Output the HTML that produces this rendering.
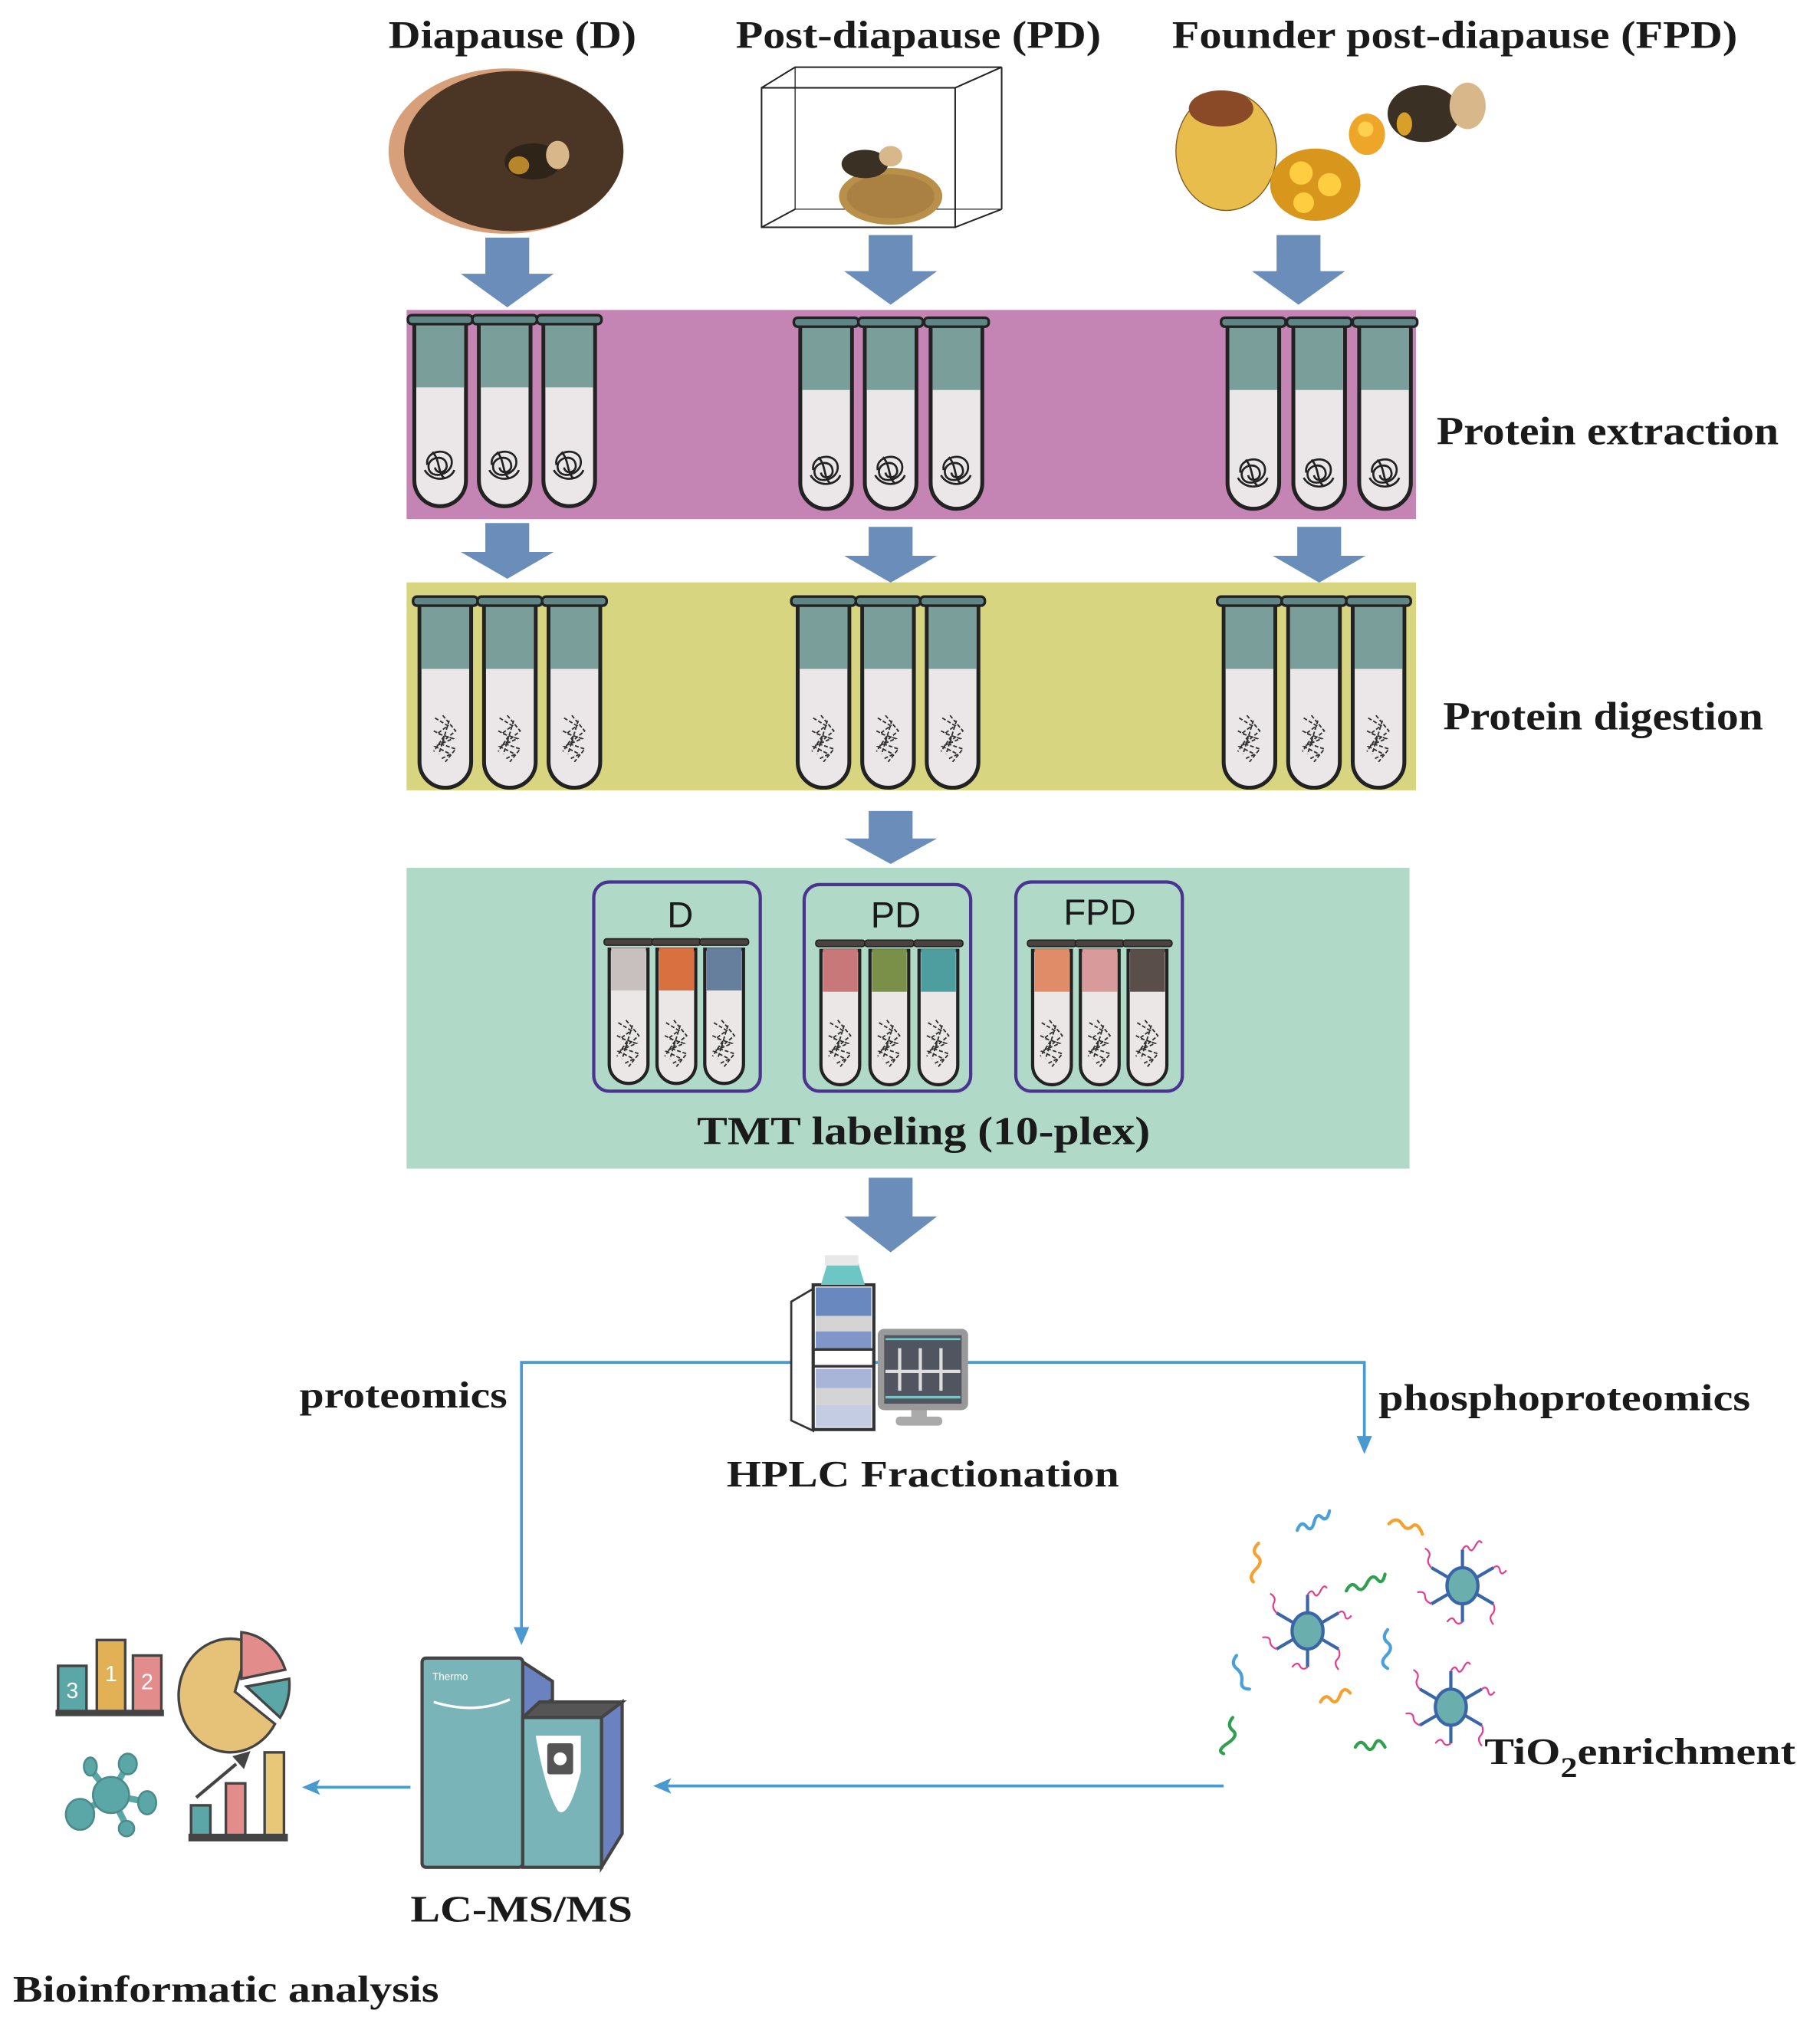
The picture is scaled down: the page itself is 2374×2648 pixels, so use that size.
<!DOCTYPE html>
<html><head><meta charset="utf-8"><style>
html,body{margin:0;padding:0;background:#fff;}
svg{display:block;}
text{font-family:"Liberation Serif",serif;font-weight:bold;fill:#1a1a1a;}
.s{font-family:"Liberation Sans",sans-serif;font-weight:normal;}
</style></head><body>
<svg width="2374" height="2648" viewBox="0 0 1410 1572" preserveAspectRatio="none" xmlns="http://www.w3.org/2000/svg">
<defs>
<g id="tb">
 <path d="M-20 6 V128 A20 20 0 0 0 20 128 V6 Z" fill="#ebe7e8" stroke="#222" stroke-width="3"/>
 <rect x="-18.5" y="7" width="37" height="49" fill="#7a9f9b"/>
 <rect x="-25" y="0" width="50" height="7" rx="3" fill="#5f8684" stroke="#222" stroke-width="2"/>
</g>
<g id="knot"><path d="M-10 0 C-12 -12 8 -14 9 -3 C10 8 -8 12 -9 2 C-10 -6 4 -9 5 0 C6 6 -3 8 -4 2 M-12 4 C-6 14 8 12 11 4 M-6 -10 C0 -4 -2 6 3 10" fill="none" stroke="#222" stroke-width="1.6"/></g>
<g id="mess"><path d="M-8 -14 L2 -8 L-6 -2 L6 2 L-8 8 L4 14 L-4 18 M-2 -16 L8 -4 L-4 6 L8 10 L0 20 M-9 -4 L-1 0 L-9 12 M3 -12 L-5 14" fill="none" stroke="#333" stroke-width="1.1" stroke-dasharray="3 1.5"/></g>
<g id="ts">
 <path d="M-15 5 V94 A15 15 0 0 0 15 94 V5 Z" fill="#ece7e7" stroke="#222" stroke-width="2.5"/>
</g>
<g id="arr"><polygon points="-17,0 17,0 17,28 36,28 0,54 -36,28 -17,28" fill="#6a8dba"/></g>
</defs>

<!-- titles -->
<text x="301" y="37" font-size="30" textLength="192" lengthAdjust="spacingAndGlyphs">Diapause (D)</text>
<text x="570" y="37" font-size="30" textLength="283" lengthAdjust="spacingAndGlyphs">Post-diapause (PD)</text>
<text x="908" y="37" font-size="30" textLength="438" lengthAdjust="spacingAndGlyphs">Founder post-diapause (FPD)</text>

<!-- diapause image -->
<ellipse cx="392" cy="117" rx="91" ry="64" fill="#d7a07a"/>
<ellipse cx="398" cy="117" rx="85" ry="62" fill="#4b3626"/>
<ellipse cx="413" cy="125" rx="22" ry="14" fill="#2e2418"/>
<ellipse cx="432" cy="120" rx="9" ry="11" fill="#d8b88a"/>
<ellipse cx="402" cy="128" rx="8" ry="7" fill="#b8862a"/>
<!-- PD cube -->
<g fill="none" stroke="#222" stroke-width="1.2">
<rect x="590" y="68" width="150" height="108"/>
<polyline points="590,68 616,52 776,52 740,68"/>
<line x1="776" y1="52" x2="776" y2="162"/><line x1="776" y1="162" x2="740" y2="176"/>
<line x1="616" y1="52" x2="616" y2="162" stroke-width="0.8"/><line x1="616" y1="162" x2="776" y2="162" stroke-width="0.8"/><line x1="590" y1="176" x2="616" y2="162"/>
</g>
<ellipse cx="690" cy="152" rx="40" ry="22" fill="#b8904a"/>
<ellipse cx="690" cy="152" rx="34" ry="17" fill="#a07840" opacity="0.6"/>
<ellipse cx="670" cy="127" rx="18" ry="11" fill="#3a3024"/>
<ellipse cx="690" cy="121" rx="9" ry="8" fill="#d8b88a"/>
<!-- FPD -->
<ellipse cx="950" cy="117" rx="39" ry="46" fill="#e8bd4c" stroke="#7a5a20" stroke-width="0.8"/>
<ellipse cx="946" cy="84" rx="25" ry="14" fill="#8a4a28"/>
<ellipse cx="1019" cy="143" rx="35" ry="28" fill="#d8961c"/>
<circle cx="1008" cy="134" r="9" fill="#ffce40"/><circle cx="1030" cy="143" r="9" fill="#ffce40"/><circle cx="1010" cy="157" r="8" fill="#ffce40"/>
<ellipse cx="1059" cy="104" rx="14" ry="16" fill="#eea628"/>
<circle cx="1058" cy="100" r="6" fill="#ffd050"/>
<ellipse cx="1103" cy="88" rx="28" ry="22" fill="#3a3024"/>
<ellipse cx="1137" cy="82" rx="14" ry="18" fill="#d8b88a"/>
<ellipse cx="1088" cy="96" rx="6" ry="9" fill="#d8a02a"/>

<!-- arrows row 1 -->
<use href="#arr" transform="translate(393,184)"/>
<use href="#arr" transform="translate(690,182)"/>
<use href="#arr" transform="translate(1006,182)"/>

<!-- purple band -->
<rect x="315" y="240" width="782" height="162" fill="#c484b4"/>
<g>
<use href="#tb" x="341" y="244"/><use href="#tb" x="391" y="244"/><use href="#tb" x="441" y="244"/>
<use href="#tb" x="640" y="246"/><use href="#tb" x="690" y="246"/><use href="#tb" x="741" y="246"/>
<use href="#tb" x="971" y="246"/><use href="#tb" x="1022" y="246"/><use href="#tb" x="1073" y="246"/>
<use href="#knot" x="341" y="360"/><use href="#knot" x="391" y="360"/><use href="#knot" x="441" y="360"/>
<use href="#knot" x="640" y="364"/><use href="#knot" x="690" y="364"/><use href="#knot" x="741" y="364"/>
<use href="#knot" x="971" y="366"/><use href="#knot" x="1022" y="366"/><use href="#knot" x="1073" y="366"/>
</g>
<text x="1113" y="344" font-size="31" textLength="265" lengthAdjust="spacingAndGlyphs">Protein extraction</text>

<!-- arrows row 2 -->
<g transform="translate(393,405) scale(1,0.8)"><use href="#arr"/></g>
<g transform="translate(690,408) scale(1,0.8)"><use href="#arr"/></g>
<g transform="translate(1022,408) scale(1,0.8)"><use href="#arr"/></g>

<!-- yellow band -->
<rect x="315" y="451" width="782" height="161" fill="#d8d580"/>
<use href="#tb" x="345" y="462"/><use href="#tb" x="395" y="462"/><use href="#tb" x="445" y="462"/>
<use href="#tb" x="638" y="462"/><use href="#tb" x="688" y="462"/><use href="#tb" x="738" y="462"/>
<use href="#tb" x="968" y="462"/><use href="#tb" x="1018" y="462"/><use href="#tb" x="1068" y="462"/>
<use href="#mess" x="345" y="570"/><use href="#mess" x="395" y="570"/><use href="#mess" x="445" y="570"/>
<use href="#mess" x="638" y="570"/><use href="#mess" x="688" y="570"/><use href="#mess" x="738" y="570"/>
<use href="#mess" x="968" y="570"/><use href="#mess" x="1018" y="570"/><use href="#mess" x="1068" y="570"/>
<text x="1118" y="565" font-size="31" textLength="248" lengthAdjust="spacingAndGlyphs">Protein digestion</text>

<g transform="translate(690,628) scale(1,0.76)"><use href="#arr"/></g>

<!-- teal band -->
<rect x="315" y="672" width="777" height="233" fill="#b0d9c8"/>
<g fill="none" stroke="#4a3490" stroke-width="2.5">
<rect x="460" y="683" width="129" height="162" rx="12"/>
<rect x="623" y="685" width="129" height="160" rx="12"/>
<rect x="787" y="683" width="129" height="162" rx="12"/>
</g>
<text class="s" x="527" y="718" font-size="28" text-anchor="middle">D</text>
<text class="s" x="694" y="718" font-size="28" text-anchor="middle">PD</text>
<text class="s" x="852" y="716" font-size="28" text-anchor="middle">FPD</text>
<g>
<use href="#ts" x="487" y="730"/><use href="#ts" x="524" y="730"/><use href="#ts" x="561" y="730"/>
<use href="#ts" x="651" y="731"/><use href="#ts" x="689" y="731"/><use href="#ts" x="727" y="731"/>
<use href="#ts" x="815" y="731"/><use href="#ts" x="852" y="731"/><use href="#ts" x="889" y="731"/>
<rect x="473.5" y="734" width="27" height="33" fill="#c8c0bf"/><rect x="510.5" y="734" width="27" height="33" fill="#d8703f"/><rect x="547.5" y="734" width="27" height="33" fill="#667f9c"/>
<rect x="637.5" y="735" width="27" height="33" fill="#c87878"/><rect x="675.5" y="735" width="27" height="33" fill="#7a8f48"/><rect x="713.5" y="735" width="27" height="33" fill="#4e9ea0"/>
<rect x="801.5" y="735" width="27" height="33" fill="#e08c68"/><rect x="838.5" y="735" width="27" height="33" fill="#d89a9a"/><rect x="875.5" y="735" width="27" height="33" fill="#5a4e4a"/>
<g fill="#4a4240" stroke="#222" stroke-width="1">
<rect x="468" y="727" width="38" height="5" rx="2"/><rect x="505" y="727" width="38" height="5" rx="2"/><rect x="542" y="727" width="38" height="5" rx="2"/>
<rect x="632" y="728" width="38" height="5" rx="2"/><rect x="670" y="728" width="38" height="5" rx="2"/><rect x="708" y="728" width="38" height="5" rx="2"/>
<rect x="796" y="728" width="38" height="5" rx="2"/><rect x="833" y="728" width="38" height="5" rx="2"/><rect x="870" y="728" width="38" height="5" rx="2"/>
</g>
<g transform="scale(1)">
<use href="#mess" x="487" y="806"/><use href="#mess" x="524" y="806"/><use href="#mess" x="561" y="806"/>
<use href="#mess" x="651" y="806"/><use href="#mess" x="689" y="806"/><use href="#mess" x="727" y="806"/>
<use href="#mess" x="815" y="806"/><use href="#mess" x="852" y="806"/><use href="#mess" x="889" y="806"/>
</g>
</g>
<text x="540" y="886" font-size="31" textLength="351" lengthAdjust="spacingAndGlyphs">TMT  labeling (10-plex)</text>

<use href="#arr" transform="translate(690,912) scale(1,1.07)"/>

<!-- blue connector lines -->
<g stroke="#4a9ad2" stroke-width="2.2" fill="none">
<polyline points="404,1264 404,1055 1057,1055 1057,1116"/>
<line x1="948" y1="1383" x2="512" y2="1383"/>
<line x1="318" y1="1384" x2="240" y2="1384"/>
</g>
<g fill="#4a9ad2">
<polygon points="398,1260 410,1260 404,1274"/>
<polygon points="1051,1112 1063,1112 1057,1126"/>
<polygon points="506,1383 520,1377 517,1383 520,1389"/>
<polygon points="234,1384 248,1378 245,1384 248,1390"/>
</g>

<!-- HPLC -->
<g>
<polygon points="613,1008 630,998 630,1108 613,1100" fill="#fff" stroke="#333" stroke-width="1.6"/>
<rect x="630" y="995" width="47" height="112" fill="#fff" stroke="#333" stroke-width="2.5"/>
<rect x="632" y="997" width="43" height="22" fill="#6a88c0"/>
<rect x="632" y="1019" width="43" height="12" fill="#d4d4d4"/>
<rect x="632" y="1031" width="43" height="14" fill="#8096c8"/>
<line x1="630" y1="1045" x2="677" y2="1045" stroke="#333" stroke-width="2"/>
<line x1="630" y1="1058" x2="677" y2="1058" stroke="#333" stroke-width="2"/>
<rect x="632" y="1060" width="43" height="15" fill="#a8b4d8"/>
<rect x="632" y="1075" width="43" height="13" fill="#d4d4d4"/>
<rect x="632" y="1088" width="43" height="17" fill="#c4cce4"/>
<polygon points="636,995 642,975 664,975 670,995" fill="#6cc6c4"/>
<rect x="639" y="972" width="26" height="8" fill="#e8e8e8"/>
<rect x="680" y="1029" width="70" height="63" rx="5" fill="#999"/>
<rect x="685" y="1034" width="60" height="53" fill="#505560"/>
<line x1="686" y1="1037" x2="744" y2="1037" stroke="#6cc" stroke-width="1.5"/>
<line x1="686" y1="1082" x2="744" y2="1082" stroke="#6cc" stroke-width="2"/>
<path d="M686 1062 H744 M697 1044 V1077 M713 1044 V1077 M729 1044 V1077" stroke="#ddd" stroke-width="2.5"/>
<rect x="706" y="1092" width="12" height="6" fill="#aaa"/>
<rect x="694" y="1097" width="36" height="7" rx="3" fill="#aaa"/>
</g>
<text x="232" y="1090" font-size="29" textLength="161" lengthAdjust="spacingAndGlyphs">proteomics</text>
<text x="1068" y="1092" font-size="29" textLength="288" lengthAdjust="spacingAndGlyphs">phosphoproteomics</text>
<text x="563" y="1151" font-size="29" textLength="304" lengthAdjust="spacingAndGlyphs">HPLC Fractionation</text>

<!-- TiO2 cluster -->
<g fill="none" stroke-width="2.5" stroke-linecap="round">
<path d="M1005 1185 q3 -8 7 -3 t6 -3 t6 -4 t6 -5" stroke="#4aa0d8"/>
<path d="M975 1195 q-6 6 -1 10 t-1 10 t-2 10" stroke="#f5a030"/>
<path d="M1076 1180 q6 -6 10 0 t8 2 t8 6" stroke="#f5a030"/>
<path d="M1043 1232 q4 -8 8 -3 t8 -3 t8 -3 t6 -4" stroke="#30a050"/>
<path d="M958 1282 q-5 6 0 10 t4 10 t6 6" stroke="#4aa0d8"/>
<path d="M1075 1262 q-5 6 0 10 t-1 10 t1 10" stroke="#4aa0d8"/>
<path d="M1023 1318 q4 -7 8 -2 t7 -3 t8 -2" stroke="#f5a030"/>
<path d="M955 1330 q-5 6 0 10 t-4 10 t-3 8" stroke="#30a050"/>
<path d="M1050 1353 q4 -7 8 -1 t7 -1 t8 2" stroke="#30a050"/>
</g>
<g stroke="#3a66a8" stroke-width="2.5" fill="#6aaeae">
<g transform="translate(1013,1263)"><path d="M0 -28 V28 M-24 -14 L24 14 M-24 14 L24 -14" /><ellipse rx="12" ry="14"/></g>
<g transform="translate(1133,1228)"><path d="M0 -28 V28 M-24 -14 L24 14 M-24 14 L24 -14" /><ellipse rx="12" ry="14"/></g>
<g transform="translate(1124,1322)"><path d="M0 -28 V28 M-24 -14 L24 14 M-24 14 L24 -14" /><ellipse rx="12" ry="14"/></g>
</g>
<g fill="none" stroke="#e83a8a" stroke-width="1.3">
<path d="M1013 1235 q3 -5 5 -1 t5 -2 t5 -2 M989 1249 q-4 -4 -2 -8 t-3 -7 M1037 1249 q4 -3 5 2 t5 0 M989 1277 q-5 -2 -5 -6 t-6 -3 M1037 1277 q2 5 -1 8 t1 8 M1013 1291 q-4 3 -6 -1 t-6 1"/>
<path d="M1133 1200 q3 -5 5 -1 t5 -2 t5 -2 M1109 1214 q-4 -4 -2 -8 t-3 -7 M1157 1214 q4 -3 5 2 t5 0 M1109 1242 q-5 -2 -5 -6 t-6 -3 M1157 1242 q2 5 -1 8 t1 8 M1133 1256 q-4 3 -6 -1 t-6 1"/>
<path d="M1124 1294 q3 -5 5 -1 t5 -2 t5 -2 M1100 1308 q-4 -4 -2 -8 t-3 -7 M1148 1308 q4 -3 5 2 t5 0 M1100 1336 q-5 -2 -5 -6 t-6 -3 M1148 1336 q2 5 -1 8 t1 8 M1124 1350 q-4 3 -6 -1 t-6 1"/>
</g>
<text x="1150" y="1366" font-size="29" textLength="241" lengthAdjust="spacingAndGlyphs">TiO<tspan dy="10" font-size="22">2</tspan><tspan dy="-10">enrichment</tspan></text>

<!-- LC-MS -->
<g stroke="#444" stroke-width="2.5">
<polygon points="405,1287 428,1302 428,1316 405,1330" fill="#6a82c0"/>
<polygon points="405,1330 418,1318 482,1318 466,1330" fill="#555"/>
<polygon points="466,1330 482,1318 482,1420 466,1446" fill="#6a82c0"/>
<rect x="327" y="1284" width="78" height="162" rx="3" fill="#78b4b8"/>
<rect x="405" y="1330" width="61" height="116" fill="#78b4b8"/>
</g>
<path d="M415 1344 H450 V1372 Q440 1410 432 1402 Q422 1385 415 1344 Z" fill="#fff"/>
<rect x="424" y="1350" width="20" height="24" rx="2" fill="#555"/><circle cx="434" cy="1362" r="5" fill="#fff"/>
<text class="s" x="335" y="1301" font-size="8" style="fill:#fff">Thermo</text>
<path d="M336 1318 Q368 1328 395 1316" stroke="#fff" stroke-width="2" fill="none"/>
<text x="318" y="1488" font-size="29" textLength="172" lengthAdjust="spacingAndGlyphs">LC-MS/MS</text>

<!-- bioinformatic icons -->
<g stroke="#444" stroke-width="2">
<rect x="45" y="1290" width="22" height="36" fill="#5ba6a6"/>
<rect x="75" y="1270" width="22" height="56" fill="#e2b055"/>
<rect x="103" y="1282" width="22" height="44" fill="#e38c8c"/>
</g>
<rect x="43" y="1324" width="84" height="5" fill="#444"/>
<text class="s" x="56" y="1315" font-size="17" text-anchor="middle" style="fill:#fff">3</text>
<text class="s" x="86" y="1302" font-size="17" text-anchor="middle" style="fill:#fff">1</text>
<text class="s" x="114" y="1308" font-size="17" text-anchor="middle" style="fill:#fff">2</text>
<g stroke="#444" stroke-width="2">
<path d="M193 1272 A40 44 0 1 0 213 1335 L182 1310 Z" fill="#e5c278"/>
<path d="M187 1264 A40 44 0 0 1 221 1293 L187 1300 Z" fill="#e38c8c"/>
<path d="M191 1306 L224 1300 A40 44 0 0 1 217 1330 Z" fill="#5ba6a6"/>
</g>
<g fill="#5ba6a6" stroke="#4a8a8a" stroke-width="1.5">
<path d="M86 1390 L70 1370 M86 1390 L98 1368 M86 1390 L112 1395 M86 1390 L64 1403 M86 1390 L98 1414" stroke="#5ba6a6" stroke-width="5"/>
<circle cx="86" cy="1390" r="14"/>
<ellipse cx="70" cy="1368" rx="5" ry="7"/><ellipse cx="99" cy="1366" rx="7" ry="8"/><ellipse cx="114" cy="1396" rx="7" ry="9"/><ellipse cx="62" cy="1405" rx="11" ry="12"/><ellipse cx="98" cy="1416" rx="6" ry="6"/>
</g>
<g stroke="#444" stroke-width="2">
<rect x="148" y="1398" width="15" height="24" fill="#5ba6a6"/>
<rect x="175" y="1381" width="15" height="41" fill="#e38c8c"/>
<rect x="205" y="1357" width="15" height="65" fill="#e8c878"/>
</g>
<rect x="146" y="1420" width="77" height="6" fill="#444"/>
<line x1="152" y1="1392" x2="183" y2="1366" stroke="#444" stroke-width="2.5"/>
<polygon points="194,1356 180,1360 189,1370" fill="#444"/>
<text x="10" y="1550" font-size="29" textLength="330" lengthAdjust="spacingAndGlyphs">Bioinformatic analysis</text>
</svg>
</body></html>
